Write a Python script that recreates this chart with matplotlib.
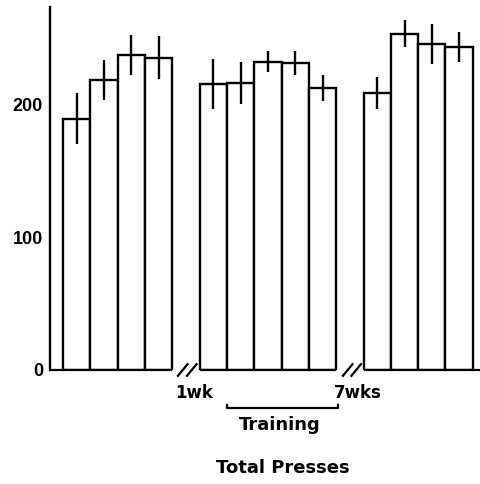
import matplotlib.pyplot as plt

# mean total presses per session, grouped: before / training / after 7 wks
pre_means = [189, 218, 237, 235]
pre_err = [19, 15, 15, 16]
train_means = [215, 216, 232, 231, 212]
train_err = [19, 16, 8, 9, 10]
post_means = [208, 253, 245, 243]
post_err = [12, 10, 15, 11]

group_starts = [0, 5, 11]
groups = [(pre_means, pre_err), (train_means, train_err), (post_means, post_err)]

yticks = [0, 100, 200]
break_labels = ["1wk", "7wks"]

plt.rcParams["font.family"] = ["Liberation Sans", "DejaVu Sans"]
plt.rcParams["font.weight"] = "bold"

fig = plt.figure(figsize=(4.81, 4.84), dpi=100)
ax = fig.add_axes([50 / 481, 114 / 484, 431 / 481, 363 / 484])

for start, (means, errs) in zip(group_starts, groups):
    xs = [start + i + 0.5 for i in range(len(means))]
    ax.bar(xs, means, width=1.0, color="white", edgecolor="black", linewidth=1.7, zorder=2)
    ax.errorbar(xs, means, yerr=errs, fmt="none", ecolor="black", elinewidth=1.7, capsize=0, zorder=3)

ax.set_xlim(-0.48, 15.3)
ax.set_ylim(0, 273)
ax.set_yticks(yticks)
ax.set_xticks([])
ax.tick_params(axis="y", length=0, pad=5, labelsize=13)
for lbl in ax.get_yticklabels():
    lbl.set_fontweight("bold")

for s in ["top", "right", "bottom"]:
    ax.spines[s].set_visible(False)
ax.spines["left"].set_linewidth(1.7)

# broken baseline with // marks between the groups
kw = dict(color="black", lw=1.6, clip_on=False, solid_capstyle="butt")
ax.plot([-0.48, 4.0], [0, 0], **kw)
ax.plot([5.0, 10.0], [0, 0], **kw)
ax.plot([11.0, 15.3], [0, 0], **kw)
for centers in [(4.38, 4.71), (10.42, 10.73)]:
    for cx in centers:
        ax.plot([cx - 0.2, cx + 0.2], [-5, 5], **kw)

bottom_font = ["DejaVu Sans"]
ax.text(4.8, -17, break_labels[0], ha="center", va="center", fontsize=12,
        fontweight="bold", family=bottom_font, clip_on=False)
ax.text(10.8, -17, break_labels[1], ha="center", va="center", fontsize=12,
        fontweight="bold", family=bottom_font, clip_on=False)

# bracket under the training sessions
ax.plot([6.0, 6.0, 10.05, 10.05], [-26.5, -28.6, -28.6, -26.5], color="black", lw=1.6, clip_on=False)
ax.text(7.95, -41.5, "Training", ha="center", va="center", fontsize=13,
        fontweight="bold", family=bottom_font, clip_on=False)
ax.text(8.05, -74, "Total Presses", ha="center", va="center", fontsize=13,
        fontweight="bold", family=bottom_font, clip_on=False)

fig.savefig("out.png", dpi=100)
